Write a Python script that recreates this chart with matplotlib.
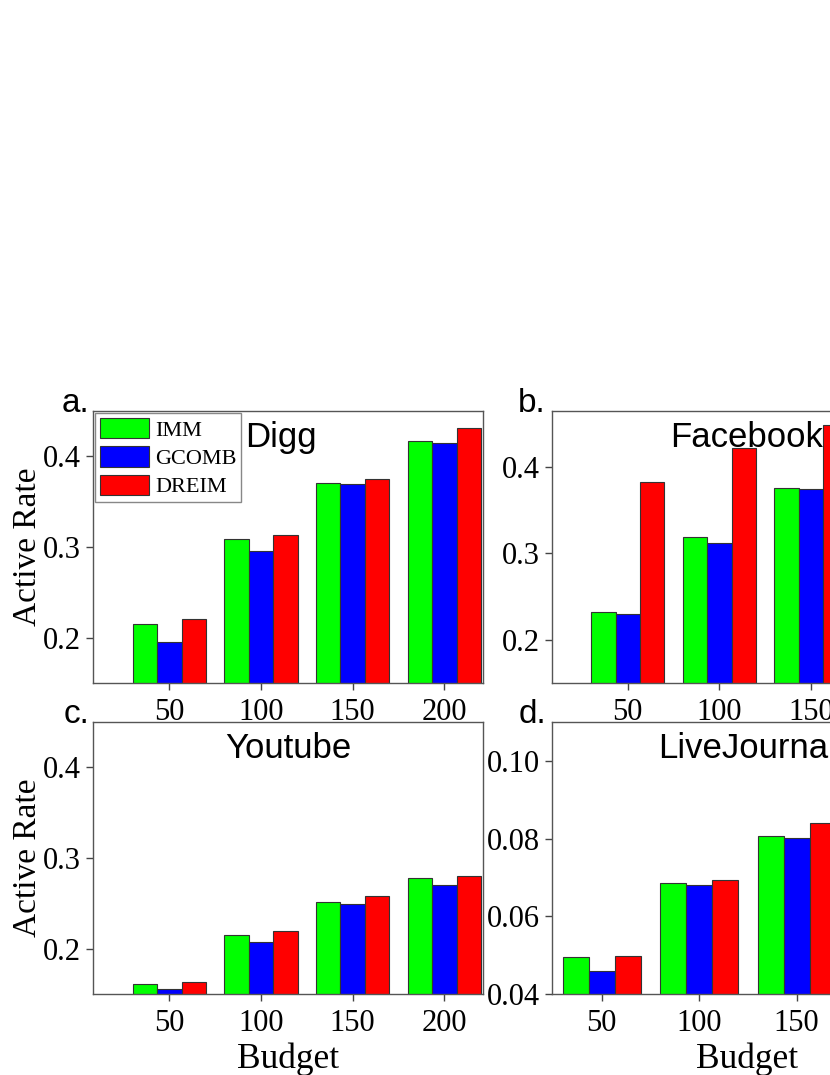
import numpy as np
import matplotlib
matplotlib.use("Agg")
import matplotlib.pyplot as plt

# data
budgets = [50, 100, 150, 200]
methods = ["IMM", "GCOMB", "DREIM"]
colors = ["#00ff00", "#0000ff", "#ff0000"]

digg_imm = [0.215, 0.309, 0.371, 0.417]
digg_gcomb = [0.195, 0.296, 0.370, 0.415]
digg_dreim = [0.221, 0.313, 0.375, 0.431]

fb_imm = [0.232, 0.319, 0.376, 0.420]
fb_gcomb = [0.230, 0.312, 0.375, 0.415]
fb_dreim = [0.383, 0.422, 0.449, 0.460]

yt_imm = [0.161, 0.215, 0.252, 0.278]
yt_gcomb = [0.155, 0.207, 0.249, 0.270]
yt_dreim = [0.163, 0.220, 0.258, 0.280]

lj_imm = [0.0496, 0.0685, 0.0807, 0.0900]
lj_gcomb = [0.0458, 0.0681, 0.0801, 0.0880]
lj_dreim = [0.0497, 0.0694, 0.0839, 0.0940]

serif = "Liberation Serif"
sans = "Liberation Sans"

W, H = 830, 1075
fig = plt.figure(figsize=(W / 100, H / 100), dpi=100)


def px_axes(left, top, right, bottom):
    return fig.add_axes([left / W, 1 - bottom / H, (right - left) / W, (bottom - top) / H])


def panel(ax, series, title, ylim, yticks, ytl, xlim, ylabel=False, xlabel=False,
          legend=False, tx=0.5):
    w = 40 / 3
    x = np.array(budgets)
    for i, vals in enumerate(series):
        ax.bar(x + (i - 1) * w, vals, width=w, color=colors[i], edgecolor="#333333",
               linewidth=0.8, label=methods[i])
    ax.set_xlim(*xlim)
    ax.set_ylim(*ylim)
    ax.set_xticks(budgets)
    ax.set_yticks(yticks)
    ax.set_yticklabels(ytl)
    for lab in ax.get_xticklabels() + ax.get_yticklabels():
        lab.set_fontfamily(serif)
        lab.set_fontsize(22)
    ax.tick_params(direction="out", length=5, width=1, color="#444444", pad=4)
    ax.tick_params(axis="x", pad=6)
    for s in ax.spines.values():
        s.set_color("#555555")
        s.set_linewidth(1)
    ax.text(tx, 0.962, title, transform=ax.transAxes, ha="center", va="top",
            fontsize=25, fontfamily=sans)
    if ylabel:
        ax.set_ylabel("Active Rate", fontsize=24, fontfamily=serif, labelpad=0)
    if xlabel:
        ax.set_xlabel("Budget", fontsize=25.5, fontfamily=serif, labelpad=3)
    if legend:
        leg = ax.legend(loc="upper left", prop={"family": serif, "size": 16},
                        fancybox=False, edgecolor="#888888", framealpha=1,
                        handlelength=2.2, handleheight=1.05, labelspacing=0.25,
                        handletextpad=0.3, borderpad=0.2, borderaxespad=0.1)
        leg.get_frame().set_linewidth(1)


ax_a = px_axes(93, 411, 483, 683)
panel(ax_a, [digg_imm, digg_gcomb, digg_dreim], "Digg", (0.15, 0.45), [0.2, 0.3, 0.4],
      ["0.2", "0.3", "0.4"], (8.4, 221.1), ylabel=True, legend=True, tx=0.482)

ax_b = px_axes(552, 411, 942, 683)
panel(ax_b, [fb_imm, fb_gcomb, fb_dreim], "Facebook", (0.15, 0.465), [0.2, 0.3, 0.4],
      ["0.2", "0.3", "0.4"], (8.7, 221.4))

ax_c = px_axes(93, 722, 483, 994)
panel(ax_c, [yt_imm, yt_gcomb, yt_dreim], "Youtube", (0.15, 0.45), [0.2, 0.3, 0.4],
      ["0.2", "0.3", "0.4"], (8.4, 221.1), ylabel=True, xlabel=True)

ax_d = px_axes(552, 722, 942, 994)
panel(ax_d, [lj_imm, lj_gcomb, lj_dreim], "LiveJournal", (0.04, 0.11),
      [0.04, 0.06, 0.08, 0.10], ["0.04", "0.06", "0.08", "0.10"], (24.6, 224.6), xlabel=True)

for lab, (px, py) in zip(["a.", "b.", "c.", "d."], [(62, 412), (518, 412), (64, 723), (519, 723)]):
    fig.text(px / W, 1 - py / H, lab, fontsize=24, fontfamily=sans, ha="left", va="baseline")

fig.savefig("out.png", dpi=100)
